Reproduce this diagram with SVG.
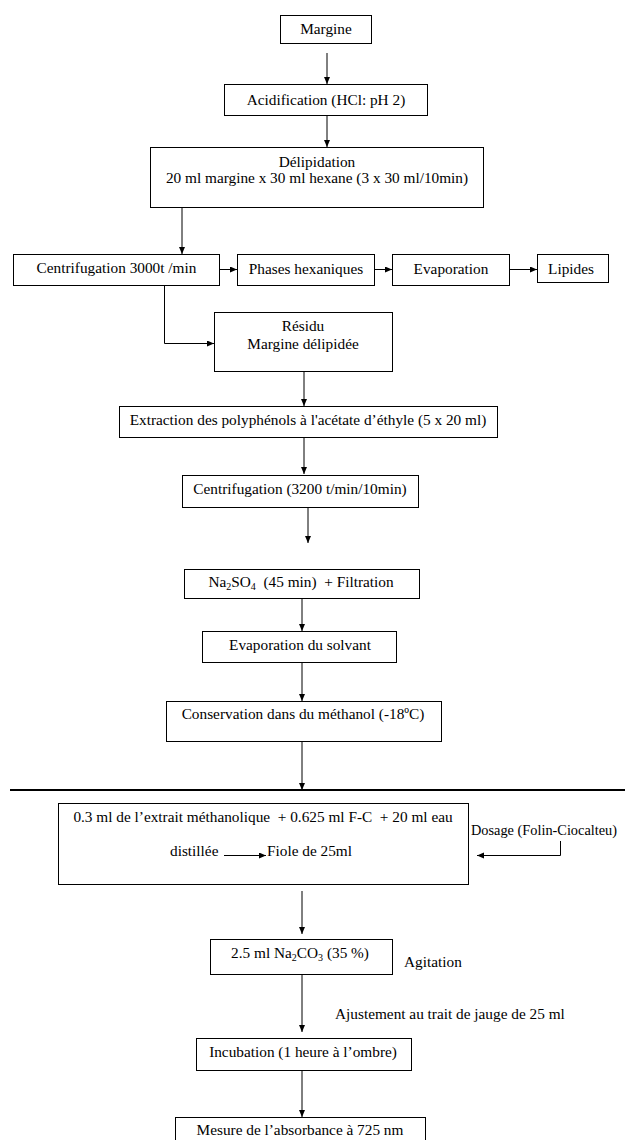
<svg xmlns="http://www.w3.org/2000/svg" width="625" height="1140" viewBox="0 0 625 1140">
<style>
  .box { fill: #fff; stroke: #000; stroke-width: 1; }
  .t { font-family: 'Liberation Serif', 'Times New Roman', Times, serif; font-size: 15.3px; fill: #000; }
  .m { text-anchor: middle; }
  .c { fill: none; stroke: #000; stroke-width: 1; marker-end: url(#ah); }
  .sub { font-size: 10px; }
</style>
<defs>
  <marker id="ah" markerUnits="userSpaceOnUse" markerWidth="8" markerHeight="8" refX="7" refY="3" orient="auto">
    <path d="M0,0 L7,3 L0,6 z" fill="#000"/>
  </marker>
</defs>
<rect width="625" height="1140" fill="#fff"/>

<g id="margine">
  <rect class="box" x="280.5" y="15.5" width="91" height="28"/>
  <text class="t m" x="326" y="34">Margine</text>
</g>
<g id="acidification">
  <rect class="box" x="224.5" y="84.5" width="203" height="31"/>
  <text class="t m" x="326" y="105">Acidification (HCl: pH 2)</text>
</g>
<g id="delipidation">
  <rect class="box" x="150.5" y="147.5" width="333" height="60"/>
  <text class="t m" x="317" y="167">Délipidation</text>
  <text class="t m" x="317" y="183">20 ml margine x 30 ml hexane (3 x 30 ml/10min)</text>
</g>
<g id="centrifugation1">
  <rect class="box" x="13.5" y="254.5" width="206" height="31"/>
  <text class="t m" x="116.5" y="273">Centrifugation 3000t /min</text>
</g>
<g id="phases">
  <rect class="box" x="237.5" y="254.5" width="137" height="31"/>
  <text class="t m" x="306" y="274">Phases hexaniques</text>
</g>
<g id="evaporation">
  <rect class="box" x="392.5" y="254.5" width="117" height="31"/>
  <text class="t m" x="451" y="274">Evaporation</text>
</g>
<g id="lipides">
  <rect class="box" x="537.5" y="254.5" width="71" height="28"/>
  <text class="t m" x="571" y="274">Lipides</text>
</g>
<g id="residu">
  <rect class="box" x="214.5" y="312.5" width="178" height="59"/>
  <text class="t m" x="303" y="331">Résidu</text>
  <text class="t m" x="303" y="349">Margine délipidée</text>
</g>
<g id="extraction">
  <rect class="box" x="119.5" y="406.5" width="378" height="31"/>
  <text class="t m" x="308" y="425">Extraction des polyphénols à l'acétate d’éthyle (5 x 20 ml)</text>
</g>
<g id="centrifugation2">
  <rect class="box" x="182.5" y="475.5" width="236" height="32"/>
  <text class="t m" x="300" y="494">Centrifugation (3200 t/min/10min)</text>
</g>
<g id="na2so4">
  <rect class="box" x="184.5" y="569.5" width="235" height="29"/>
  <text class="t m" x="301" y="587">Na<tspan class="sub" dy="3">2</tspan><tspan dy="-3">SO</tspan><tspan class="sub" dy="3">4</tspan><tspan dy="-3">&#160; (45 min)&#160; + Filtration</tspan></text>
</g>
<g id="evaporation-solvant">
  <rect class="box" x="202.5" y="631.5" width="194" height="31"/>
  <text class="t m" x="300" y="650">Evaporation du solvant</text>
</g>
<g id="conservation">
  <rect class="box" x="166.5" y="701.5" width="275" height="40"/>
  <text class="t m" x="303" y="719">Conservation dans du méthanol (-18ºC)</text>
</g>
<g id="melange">
  <rect class="box" x="58.5" y="803.5" width="410" height="81"/>
  <text class="t m" x="263" y="822">0.3 ml de l’extrait méthanolique&#160; + 0.625 ml F-C&#160; + 20 ml eau</text>
  <text class="t" x="170" y="856">distillée</text>
  <text class="t" x="267" y="856">Fiole de 25ml</text>
</g>
<g id="dosage">
  <text class="t" x="471" y="835" textLength="146" lengthAdjust="spacingAndGlyphs">Dosage (Folin-Ciocalteu)</text>
</g>
<g id="na2co3">
  <rect class="box" x="210.5" y="939.5" width="182" height="35"/>
  <text class="t m" x="300" y="958">2.5 ml Na<tspan class="sub" dy="3">2</tspan><tspan dy="-3">CO</tspan><tspan class="sub" dy="3">3</tspan><tspan dy="-3"> (35 %)</tspan></text>
</g>
<g id="agitation">
  <text class="t" x="404" y="967">Agitation</text>
</g>
<g id="ajustement">
  <text class="t" x="335" y="1019">Ajustement au trait de jauge de 25 ml</text>
</g>
<g id="incubation">
  <rect class="box" x="196.5" y="1038.5" width="215" height="32"/>
  <text class="t m" x="303" y="1057">Incubation (1 heure à l’ombre)</text>
</g>
<g id="mesure">
  <rect class="box" x="175.5" y="1117.5" width="250" height="40"/>
  <text class="t m" x="300" y="1135">Mesure de l’absorbance à 725 nm</text>
</g>

<g id="connectors">
  <line class="c" x1="327" y1="53" x2="327" y2="84"/>
  <line class="c" x1="327" y1="116" x2="327" y2="147"/>
  <line class="c" x1="182" y1="208" x2="182" y2="254"/>
  <line class="c" x1="220" y1="269.5" x2="237" y2="269.5"/>
  <line class="c" x1="375" y1="269.5" x2="392" y2="269.5"/>
  <line class="c" x1="510" y1="269.5" x2="537" y2="269.5"/>
  <polyline class="c" points="164.5,286 164.5,343.5 214,343.5"/>
  <line class="c" x1="304" y1="372" x2="304" y2="406"/>
  <line class="c" x1="304" y1="437" x2="304" y2="474"/>
  <line class="c" x1="308" y1="508" x2="308" y2="543"/>
  <line class="c" x1="302" y1="599" x2="302" y2="631"/>
  <line class="c" x1="302" y1="662" x2="302" y2="701"/>
  <line class="c" x1="302" y1="742" x2="302" y2="790"/>
  <line x1="10" y1="790" x2="625" y2="790" stroke="#000" stroke-width="2"/>
  <polyline class="c" points="560.5,841 560.5,855.5 477,855.5"/>
  <line class="c" x1="224" y1="855.5" x2="266" y2="855.5"/>
  <line class="c" x1="302" y1="891" x2="302" y2="934"/>
  <line class="c" x1="302" y1="974" x2="302" y2="1032"/>
  <line class="c" x1="302" y1="1070" x2="302" y2="1117"/>
</g>
</svg>
